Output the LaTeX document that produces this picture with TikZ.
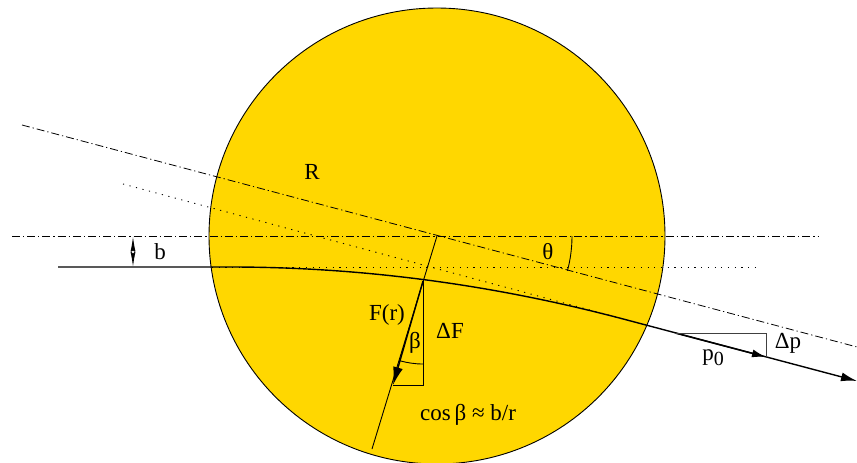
\documentclass[tikz,border=0pt]{standalone}
\usepackage{fontspec}
\setmainfont{Liberation Serif}
\usetikzlibrary{arrows.meta,calc}
\begin{document}
\begin{tikzpicture}[x=1pt,y=-1pt,
  lbl/.style={inner sep=0pt,font=\fontsize{23}{27}\selectfont},
  dashdot/.style={line width=0.8pt,dash pattern=on 8pt off 3pt on 1.2pt off 3pt},
  dotline/.style={line width=0.9pt,dash pattern=on 1.2pt off 5.5pt},
  traj/.style={line width=1.4pt},
  thin/.style={line width=0.9pt},
  tip/.style={-{Latex[length=14pt,width=8pt]}},
  bigtip/.style={-{Latex[length=18pt,width=10pt]}}]
\useasboundingbox (0,0) rectangle (857,463);
% sun
\coordinate (C) at (437,236);
\fill[fill={rgb,255:red,255;green,215;blue,0}] (C) circle[radius=228pt];
% reference lines
\coordinate (hL) at (12,236);
\coordinate (hR) at (818,236);
\draw[dashdot] (hL) -- (hR);
\coordinate (tL) at (22,125);
\coordinate (tR) at (857,347);
\draw[dashdot] (tL) -- (tR);
\coordinate (dL) at (123,184);
\coordinate (E) at (624,319.2);
\draw[dotline] (dL) -- (E);
\coordinate (hdL) at (212,267);
\coordinate (hdR) at (760,267);
\draw[dotline] (hdL) -- (hdR);
% trajectory
\coordinate (S0) at (58,267);
\coordinate (S1) at (230,267);
\coordinate (K) at (427,267);
\coordinate (T) at (857,381);
\draw[traj] (S0) -- (S1) .. controls ($(S1)!0.6667!(K)$) and ($(E)!0.6667!(K)$) .. (E);
\draw[traj,-{Latex[length=16pt,width=9pt]}] (E) -- (T);
% p0 arrow
\coordinate (Pa) at (675,333);
\coordinate (Pb) at (766,357);
\coordinate (Pc) at (766,333);
\draw[traj,tip] (Pa) -- (Pb);
\draw[thin,black!75] (Pa) -- (Pc) -- (Pb);
% radial line and force
\coordinate (Rend) at (372,449);
\draw[thin] (C) -- (Rend);
\coordinate (F0) at (423,281);
\coordinate (F1) at (393,385);
\coordinate (F2) at (423,385);
\draw[traj,bigtip] (F0) -- (F1);
\draw[thin] (F0) -- (F2) -- (F1);
\coordinate (Barc) at (423,364);
\draw[thin] (Barc) arc[start angle=270,end angle=253.5,radius=83pt];
% theta arc
\coordinate (Tharc) at (572,236);
\draw[thin] (Tharc) arc[start angle=0,end angle=-14.9,radius=135pt];
% circle outline
\draw[line width=0.9pt] (C) circle[radius=228pt];
% b arrow
\coordinate (bM) at (133,252);
\coordinate (bT) at (133,236.5);
\coordinate (bB) at (133,267);
\draw[thin,-{Latex[length=15pt,width=5pt]}] (bM) -- (bT);
\draw[thin,-{Latex[length=15pt,width=5pt]}] (bM) -- (bB);
\fill[white] (bM) circle[radius=1.3pt];
% labels
\node[lbl] (lR) at (312,172) {R};
\node[lbl] (lth) at (548,252) {θ};
\node[lbl] (lb) at (160,252) {b};
\node[lbl] (lF) at (387,315) {F(r)};
\node[lbl] (lbe) at (415,343) {β};
\node[lbl] (lDF) at (450,331) {ΔF};
\node[lbl] (lDp) at (788,343) {Δp};
\node[lbl] (lp0) at (713,358) {p\raisebox{-0.4ex}{\fontsize{20}{24}\selectfont 0}};
\node[lbl] (lcos) at (468,415) {cos\,β ≈ b/r};
\end{tikzpicture}
\end{document}
